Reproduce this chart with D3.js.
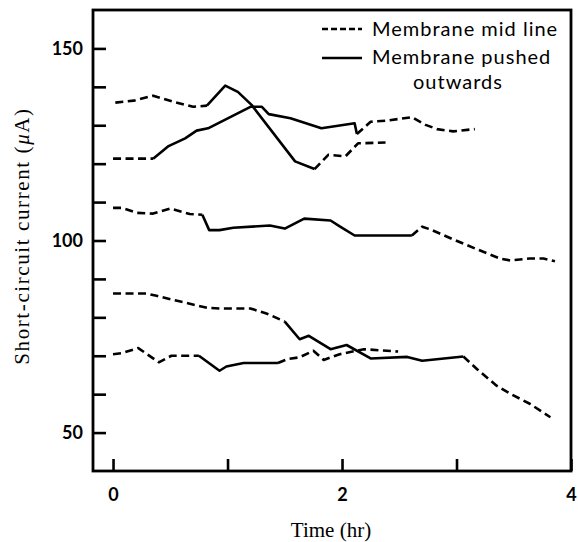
<!DOCTYPE html>
<html>
<head>
<meta charset="utf-8">
<script src="https://cdn.jsdelivr.net/npm/d3@7"></script>
<style>
  body { margin: 0; background: #fff; }
  svg { display: block; }
  .tickLabel text { font-family: Lato, "Open Sans", sans-serif; font-size: 18px; font-weight: bold; fill: #000; }
  .legend text { font-family: Lato, "Open Sans", sans-serif; font-size: 20px; letter-spacing: 1px; fill: #000; }
  .axisTitle { font-family: "Liberation Serif", "DejaVu Serif", serif; font-size: 21px; fill: #000; }
</style>
</head>
<body>
<div id="holder"></div>
<script>

//------------------------------------------------------------------------------

/** time (hr), short-circuit current (µA), one array per run. */
const run1 = [
  [0.02, 135.9], [0.18, 136.4], [0.35, 137.7], [0.53, 136.1], [0.70, 134.8], [0.82, 135.1],
  [0.98, 140.3], [1.09, 138.7], [1.21, 135.3], [1.59, 120.6], [1.76, 118.6], [1.88, 122.3],
  [2.03, 121.9], [2.14, 125.3], [2.38, 125.5]];
const run2 = [
  [0.00, 121.3], [0.35, 121.3], [0.48, 124.5], [0.63, 126.6], [0.73, 128.6], [0.83, 129.2],
  [1.20, 134.8], [1.30, 134.8], [1.36, 132.9], [1.55, 131.8], [1.82, 129.2], [2.11, 130.5],
  [2.13, 127.7], [2.25, 130.9], [2.39, 131.2], [2.61, 132.1], [2.73, 130.1], [2.83, 129.0],
  [2.97, 128.4], [3.16, 129.0]];
const run3 = [
  [0.00, 108.5], [0.08, 108.5], [0.21, 107.2], [0.35, 107.0], [0.50, 108.3], [0.67, 106.9],
  [0.78, 106.7], [0.84, 102.7], [0.93, 102.7], [1.05, 103.3], [1.37, 103.9], [1.50, 103.1],
  [1.67, 105.7], [1.90, 105.2], [1.98, 103.7], [2.11, 101.3], [2.61, 101.3], [2.70, 103.6],
  [2.77, 102.9], [2.97, 100.3], [3.18, 97.7], [3.38, 95.3], [3.47, 94.8], [3.64, 95.3],
  [3.76, 95.3], [3.86, 94.6]];
const run4 = [
  [0.00, 86.2], [0.29, 86.2], [0.38, 85.6], [0.56, 84.3], [0.82, 82.5], [0.93, 82.3],
  [1.20, 82.3], [1.34, 81.0], [1.50, 78.9], [1.63, 74.3], [1.71, 75.2], [1.90, 71.7],
  [2.04, 72.8], [2.25, 69.3], [2.57, 69.7], [2.70, 68.7], [3.06, 69.8], [3.18, 66.5],
  [3.35, 62.2], [3.47, 60.1], [3.64, 57.5], [3.82, 54.0]];
const run5 = [
  [0.00, 70.4], [0.08, 70.7], [0.22, 72.0], [0.40, 68.3], [0.51, 70.0], [0.75, 70.0],
  [0.93, 66.1], [0.99, 67.2], [1.14, 68.1], [1.44, 68.1], [1.52, 69.1], [1.63, 69.6],
  [1.75, 71.3], [1.84, 68.9], [1.98, 70.4], [2.19, 71.7], [2.49, 71.1]];

const runs = [run1, run2, run3, run4, run5];
/** [start, end] time of the period in which the membrane was pushed outwards, per run. */
const pushedPeriods = [[0.82, 1.76], [0.35, 2.13], [0.78, 2.61], [1.50, 3.06], [0.75, 1.44]];

const xTicks = [0, 1, 2, 3, 4];
const xTickLabels = ['0', '', '2', '', '4'];
const yTicks = [50, 60, 70, 80, 90, 100, 110, 120, 130, 140, 150];
const yTickLabels = {50: '50', 100: '100', 150: '150'};
const legendLabels = ['Membrane mid line', 'Membrane pushed', 'outwards'];

//------------------------------------------------------------------------------

const dLog = console.debug;

const
width = 578, height = 542,
frame = {left: 93, right: 571, top: 10, bottom: 471},
dash = '8,4.5';

const
x = d3.scaleLinear().domain([-0.175, 4]).range([frame.left, frame.right]),
y = d3.scaleLinear().domain([40, 160]).range([frame.bottom, frame.top]),
line = d3.line().x(d => x(d[0])).y(d => y(d[1]));

const svg = d3.select('#holder').append('svg')
  .attr('width', width)
  .attr('height', height);

/** split a run into dashed (mid line) and solid (pushed) pieces, sharing the switch points. */
function segments(run, period) {
  const
  [t0, t1] = period,
  before = run.filter(d => d[0] <= t0),
  during = run.filter(d => d[0] >= t0 && d[0] <= t1),
  after = run.filter(d => d[0] >= t1);
  return [
    {pushed: false, points: before},
    {pushed: true, points: during},
    {pushed: false, points: after},
  ].filter(s => s.points.length > 1);
}

//------------------------------------------------------------------------------

function renderAxes() {
  const
  yAxis = d3.axisLeft(y)
    .tickValues(yTicks)
    .tickSize(-13)
    .tickPadding(10)
    .tickFormat(v => yTickLabels[v] || ''),
  xAxis = d3.axisBottom(x)
    .tickValues(xTicks)
    .tickSize(-12)
    .tickPadding(17)
    .tickFormat((v, i) => xTickLabels[i]);

  const gY = svg.append('g')
    .attr('class', 'tickLabel')
    .attr('transform', 'translate(' + frame.left + ',0)')
    .call(yAxis);
  const gX = svg.append('g')
    .attr('class', 'tickLabel')
    .attr('transform', 'translate(0,' + frame.bottom + ')')
    .call(xAxis);
  [gY, gX].forEach(g => {
    g.select('.domain').remove();
    g.selectAll('.tick line').attr('stroke', '#000').attr('stroke-width', 2.6);
  });

  svg.append('rect')
    .attr('x', frame.left)
    .attr('y', frame.top)
    .attr('width', frame.right - frame.left)
    .attr('height', frame.bottom - frame.top)
    .attr('fill', 'none')
    .attr('stroke', '#000')
    .attr('stroke-width', 2.8);

  svg.append('text')
    .attr('class', 'axisTitle')
    .attr('x', 331)
    .attr('y', 537)
    .attr('text-anchor', 'middle')
    .text('Time (hr)');

  const yTitle = svg.append('text')
    .attr('class', 'axisTitle')
    .attr('text-anchor', 'middle')
    .attr('letter-spacing', 1.6)
    .attr('transform', 'translate(29,236) rotate(-90)');
  yTitle.append('tspan').text('Short-circuit current (');
  yTitle.append('tspan').attr('font-style', 'italic').text('\u03bc');
  yTitle.append('tspan').text('A)');
}

function renderRuns() {
  const
  pieces = runs.flatMap((run, i) => segments(run, pushedPeriods[i])),
  gL = svg.append('g').attr('class', 'runs');
  gL.selectAll('path')
    .data(pieces)
    .enter()
    .append('path')
    .attr('d', s => line(s.points))
    .attr('fill', 'none')
    .attr('stroke', '#000')
    .attr('stroke-width', 2.6)
    .attr('stroke-linejoin', 'round')
    .attr('stroke-dasharray', s => s.pushed ? null : dash);
  dLog('renderRuns', pieces.length);
}

function renderLegend() {
  const g = svg.append('g').attr('class', 'legend');
  [{pushed: false, y: 29}, {pushed: true, y: 58}].forEach(l => {
    g.append('line')
      .attr('x1', 322).attr('x2', 362)
      .attr('y1', l.y).attr('y2', l.y)
      .attr('stroke', '#000')
      .attr('stroke-width', 2.6)
      .attr('stroke-dasharray', l.pushed ? null : '6,3');
  });
  g.append('text').attr('x', 372).attr('y', 36).text(legendLabels[0]);
  g.append('text').attr('x', 372).attr('y', 64).text(legendLabels[1]);
  g.append('text').attr('x', 458).attr('y', 89).attr('text-anchor', 'middle').text(legendLabels[2]);
}

renderRuns();
renderAxes();
renderLegend();

</script>
</body>
</html>
